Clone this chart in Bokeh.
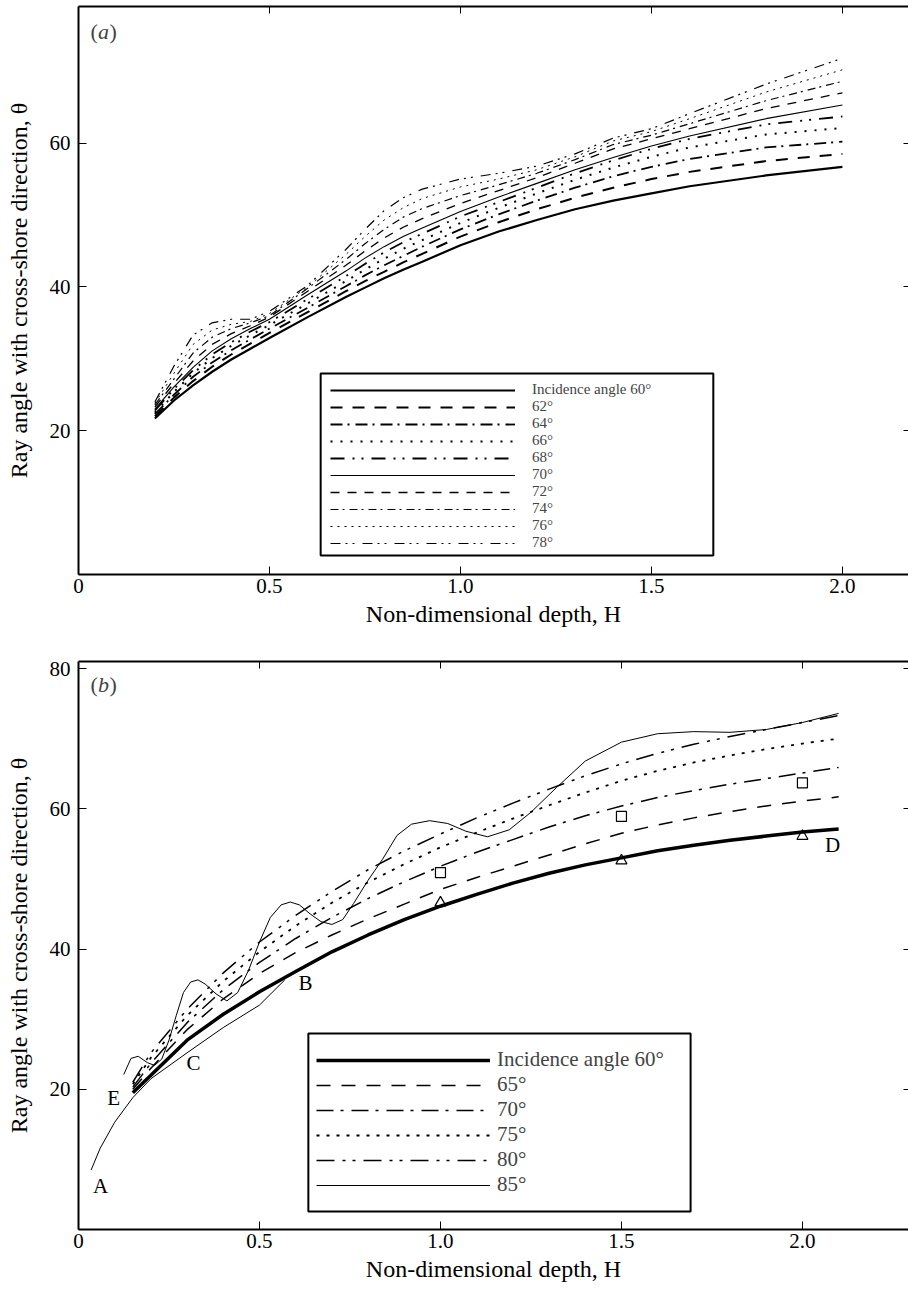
from bokeh.plotting import figure
from bokeh.models import (Range1d, FixedTicker, LinearAxis, Legend, LegendItem, Label,
                          BoxAnnotation, CustomJSTickFormatter)
from bokeh.layouts import column
from bokeh.embed import file_html
from bokeh.resources import INLINE

FONT = "Liberation Serif"

# ---------------- Panel (a) data ----------------
a_depth = [0.2, 0.25, 0.3, 0.35, 0.4, 0.45, 0.5, 0.6, 0.7, 0.75, 0.8, 0.85, 0.9, 1.0,
           1.1, 1.2, 1.3, 1.4, 1.5, 1.6, 1.8, 2.0]
a_theta_60 = [21.7, 24.2, 26.3, 28.2, 29.9, 31.4, 32.9, 35.8, 38.6, 39.9, 41.2, 42.4, 43.5, 45.8,
              47.7, 49.3, 50.8, 52.0, 53.0, 54.0, 55.5, 56.7]
a_theta_62 = [22.0, 24.6, 26.9, 28.9, 30.6, 32.1, 33.6, 36.5, 39.4, 40.8, 42.1, 43.4, 44.6, 47.0,
              49.0, 50.8, 52.4, 53.8, 55.0, 56.0, 57.5, 58.5]
a_theta_64 = [22.3, 25.0, 27.5, 29.5, 31.2, 32.7, 34.2, 37.1, 40.1, 41.6, 43.0, 44.3, 45.6, 48.0,
              50.1, 52.0, 53.8, 55.4, 56.7, 57.8, 59.4, 60.2]
a_theta_66 = [22.5, 25.4, 28.0, 30.1, 31.8, 33.3, 34.7, 37.7, 40.8, 42.4, 43.9, 45.3, 46.5, 48.9,
              51.0, 53.0, 54.9, 56.6, 58.1, 59.4, 61.2, 62.1]
a_theta_68 = [22.8, 25.8, 28.4, 30.6, 32.3, 33.8, 35.1, 38.3, 41.5, 43.2, 44.8, 46.2, 47.4, 49.8,
              51.8, 53.8, 55.8, 57.6, 59.2, 60.6, 62.6, 63.7]
a_theta_70 = [23.0, 26.1, 28.8, 31.1, 32.8, 34.2, 35.5, 38.9, 42.2, 44.0, 45.6, 47.0, 48.2, 50.5,
              52.5, 54.4, 56.3, 58.0, 59.6, 61.0, 63.4, 65.3]
a_theta_72 = [23.3, 26.6, 29.7, 32.0, 33.5, 34.6, 35.8, 39.4, 43.0, 45.0, 46.8, 48.3, 49.5, 51.6,
              53.4, 55.2, 57.2, 59.2, 60.6, 62.0, 64.8, 67.0]
a_theta_74 = [23.6, 27.2, 30.8, 33.0, 34.2, 35.0, 36.0, 39.8, 43.8, 46.0, 48.0, 49.7, 50.9, 52.7,
              54.2, 55.8, 57.7, 59.8, 61.1, 62.7, 65.9, 68.6]
a_theta_76 = [23.8, 28.0, 32.0, 34.0, 34.8, 35.2, 36.3, 40.0, 44.5, 47.0, 49.3, 51.0, 52.3, 53.9,
              55.0, 56.3, 58.1, 60.3, 61.6, 63.4, 67.1, 70.2]
a_theta_78 = [24.0, 29.0, 33.3, 35.0, 35.5, 35.5, 36.6, 40.2, 45.2, 48.0, 50.6, 52.4, 53.6, 55.0,
              55.8, 56.8, 58.5, 60.7, 62.0, 64.1, 68.2, 71.8]
a_labels = ["Incidence angle 60°", "62°", "64°", "66°", "68°", "70°", "72°", "74°", "76°", "78°"]

# ---------------- Panel (b) data ----------------
b_depth = [0.15, 0.2, 0.3, 0.4, 0.5, 0.6, 0.7, 0.8, 0.9, 1.0, 1.1, 1.2, 1.3, 1.4, 1.5,
           1.6, 1.7, 1.8, 1.9, 2.0, 2.1]
b_theta_60 = [19.5, 22.0, 27.0, 30.7, 33.9, 36.8, 39.6, 42.0, 44.2, 46.1, 47.8, 49.4, 50.8, 52.0,
              53.0, 54.0, 54.8, 55.5, 56.1, 56.7, 57.1]
b_theta_65 = [20.0, 23.0, 28.5, 32.9, 36.5, 39.5, 42.0, 44.3, 46.4, 48.5, 50.2, 51.8, 53.4, 55.0,
              56.5, 57.7, 58.7, 59.6, 60.4, 61.1, 61.7]
b_theta_70 = [20.3, 23.7, 29.5, 34.2, 38.1, 41.5, 44.5, 47.2, 49.6, 51.8, 53.8, 55.6, 57.4, 59.0,
              60.4, 61.6, 62.6, 63.5, 64.3, 65.1, 65.9]
b_theta_75 = [20.7, 24.5, 30.5, 35.4, 39.6, 43.3, 46.6, 49.5, 52.1, 54.5, 56.6, 58.6, 60.5, 62.3,
              64.0, 65.4, 66.6, 67.6, 68.5, 69.3, 70.0]
b_theta_80 = [21.0, 25.2, 31.4, 36.6, 41.0, 44.8, 48.2, 51.3, 54.0, 56.4, 58.7, 60.8, 62.8, 64.7,
              66.4, 67.9, 69.2, 70.3, 71.3, 72.3, 73.3]
b_depth_85 = [0.125, 0.145, 0.165, 0.19, 0.21, 0.23, 0.25, 0.27, 0.29, 0.31, 0.33, 0.35, 0.38,
              0.41, 0.44, 0.47, 0.50, 0.53, 0.56, 0.585, 0.61, 0.64, 0.67, 0.70, 0.73, 0.76,
              0.80, 0.84, 0.88, 0.92, 0.97, 1.02, 1.07, 1.13, 1.19, 1.25, 1.32, 1.40, 1.50,
              1.60, 1.70, 1.80, 1.90, 2.0, 2.1]
b_theta_85 = [22.1, 24.4, 24.7, 23.8, 23.4, 24.3, 27.0, 30.5, 33.8, 35.3, 35.6, 35.0, 33.6,
              32.6, 33.8, 37.0, 41.0, 44.5, 46.3, 46.7, 46.3, 45.0, 43.9, 43.5, 44.2, 46.5,
              49.8, 52.8, 56.2, 57.8, 58.3, 57.9, 56.8, 56.0, 57.0, 59.5, 63.0, 66.8, 69.5,
              70.7, 71.0, 70.9, 71.3, 72.3, 73.6]
b_depth_AB = [0.035, 0.06, 0.1, 0.15, 0.2, 0.3, 0.4, 0.5, 0.57]
b_theta_AB = [8.5, 11.6, 15.3, 18.8, 21.5, 25.2, 28.8, 32.0, 35.6]
b_tri_depth = [1.0, 1.5, 2.0]
b_tri_theta = [46.6, 52.6, 56.1]
b_sq_depth = [1.0, 1.5, 2.0]
b_sq_theta = [50.9, 58.9, 63.7]
b_point_labels = ["A", "B", "C", "D", "E"]
b_point_depth = [0.061, 0.627, 0.318, 2.083, 0.097]
b_point_theta = [6.2, 35.2, 23.7, 54.8, 18.8]
b_labels = ["Incidence angle 60°", "65°", "70°", "75°", "80°", "85°"]

x_ticks = [0, 0.5, 1.0, 1.5, 2.0]
top_ticks = [0.5, 1.0, 1.5, 2.0]
a_y_ticks = [20, 40, 60]
b_y_ticks = [20, 40, 60, 80]

# line styles (width, dash)
a_styles = [(2.2, "solid"), (2.0, "12 10"), (1.8, "12 5 2 6"), (2.0, "2 8"),
            (1.8, "14 8 2 7 2 8"), (1.1, "solid"), (1.3, "9 8"), (1.2, "8 4 2 5"),
            (1.0, "2 5"), (1.2, "10 5 2 5 2 8")]
b_styles = [(3.5, "solid"), (1.5, "14 11"), (1.5, "17 7 3 8"), (1.8, "3 7"),
            (1.5, "18 8 3 7 3 8"), (1.0, "solid")]


def base_fig(x_end, y_end, height, top_border, bottom_border, yticks):
    p = figure(width=908, height=height, x_range=Range1d(0, x_end), y_range=Range1d(0, y_end),
               output_backend="svg", toolbar_location=None, title=None,
               min_border_left=78, min_border_right=0,
               min_border_top=top_border, min_border_bottom=bottom_border)
    p.outline_line_color = None
    p.grid.visible = False
    xa = p.xaxis[0]
    ya = p.yaxis[0]
    xa.ticker = FixedTicker(ticks=x_ticks)
    xa.formatter = CustomJSTickFormatter(code="return tick == 0 ? '0' : tick.toFixed(1)")
    ya.ticker = FixedTicker(ticks=yticks)
    for ax in (xa, ya):
        ax.major_tick_in = 8
        ax.major_tick_out = 0
        ax.minor_tick_in = 0
        ax.minor_tick_out = 0
        ax.axis_line_width = 2
        ax.major_tick_line_width = 1
        ax.major_label_text_font = FONT
        ax.major_label_text_font_size = "21px"
        ax.major_label_text_color = "black"
        ax.axis_label_text_font = FONT
        ax.axis_label_text_font_size = "24px"
        ax.axis_label_text_font_style = "normal"
        ax.axis_label_text_color = "black"
    xa.axis_label = "Non-dimensional depth, H"
    ya.axis_label = "Ray angle with cross-shore direction, θ"
    xa.major_label_standoff = 4
    xa.axis_label_standoff = 5
    ya.major_label_standoff = 8
    ya.axis_label_standoff = 15
    top = LinearAxis(ticker=FixedTicker(ticks=top_ticks), formatter=CustomJSTickFormatter(code="return ''"),
                     major_label_text_font_size="0px", major_label_standoff=0,
                     major_tick_in=7, major_tick_out=0, minor_tick_in=0, minor_tick_out=0,
                     axis_line_width=2)
    p.add_layout(top, "above")
    right = LinearAxis(ticker=FixedTicker(ticks=yticks), formatter=CustomJSTickFormatter(code="return ''"),
                       major_label_text_font_size="0px", major_label_standoff=0,
                       major_tick_in=5, major_tick_out=0, minor_tick_in=0, minor_tick_out=0,
                       axis_line_color=None)
    p.add_layout(right, "right")
    return p


def panel_tag(p, xs, y, letter):
    parts = ["(", letter, ")"]
    styles = ["normal", "italic", "normal"]
    for x, t, s in zip(xs, parts, styles):
        p.add_layout(Label(x=x, y=y, text=t, text_align="left", text_baseline="middle",
                           text_font=FONT, text_font_size="22px", text_font_style=s))


# ---------------- Figure (a) ----------------
pa = base_fig(2.173, 79, 652, 6, 78, a_y_ticks)
a_series = [a_theta_60, a_theta_62, a_theta_64, a_theta_66, a_theta_68,
            a_theta_70, a_theta_72, a_theta_74, a_theta_76, a_theta_78]
a_items = []
for theta, (w, dash), lab in zip(a_series, a_styles, a_labels):
    r = pa.line(a_depth, theta, line_color="black", line_width=w, line_dash=dash)
    a_items.append(LegendItem(label=lab, renderers=[r]))

pa.add_layout(BoxAnnotation(left=0.634, right=1.662, bottom=2.64, top=27.96,
                            fill_color="white", fill_alpha=1.0,
                            line_color="black", line_width=2, line_alpha=1.0))
leg_a = Legend(items=a_items, location=(252, 23), label_text_font=FONT,
               label_text_font_size="15px", glyph_width=185, glyph_height=16,
               label_height=16, label_standoff=17, spacing=0, padding=0, margin=0,
               border_line_color=None, background_fill_alpha=0.0)
pa.add_layout(leg_a)
panel_tag(pa, [0.0314, 0.051, 0.0812], 75.5, "a")

# ---------------- Figure (b) ----------------
pb = base_fig(2.293, 81, 640, 9, 63, b_y_ticks)
b_series = [b_theta_60, b_theta_65, b_theta_70, b_theta_75, b_theta_80]
b_items = []
for theta, (w, dash), lab in zip(b_series, b_styles[:5], b_labels[:5]):
    r = pb.line(b_depth, theta, line_color="black", line_width=w, line_dash=dash)
    b_items.append(LegendItem(label=lab, renderers=[r]))
w85, d85 = b_styles[5]
r85 = pb.line(b_depth_85, b_theta_85, line_color="black", line_width=w85, line_dash=d85)
b_items.append(LegendItem(label=b_labels[5], renderers=[r85]))
pb.line(b_depth_AB, b_theta_AB, line_color="black", line_width=1.0)
pb.scatter(b_tri_depth, b_tri_theta, marker="triangle", size=11, fill_alpha=0,
           line_color="black", line_width=1.2)
pb.scatter(b_sq_depth, b_sq_theta, marker="square", size=10, fill_alpha=0,
           line_color="black", line_width=1.2)
pb.text(b_point_depth, b_point_theta, text=b_point_labels, text_align="center",
        text_baseline="middle", text_font={"value": FONT}, text_font_size="21px",
        text_color="black")

pb.add_layout(BoxAnnotation(left=0.635, right=1.691, bottom=2.57, top=27.96,
                            fill_color="white", fill_alpha=1.0,
                            line_color="black", line_width=2, line_alpha=1.0))
leg_b = Legend(items=b_items, location=(238, 32), label_text_font=FONT,
               label_text_font_size="21px", glyph_width=174, glyph_height=24,
               label_height=24, label_standoff=7, spacing=0, padding=0, margin=0,
               border_line_color=None, background_fill_alpha=0.0)
pb.add_layout(leg_b)
panel_tag(pb, [0.0331, 0.0539, 0.0856], 77.7, "b")

layout = column(pa, pb, spacing=0)
open("out.html", "w").write(file_html(layout, INLINE))
